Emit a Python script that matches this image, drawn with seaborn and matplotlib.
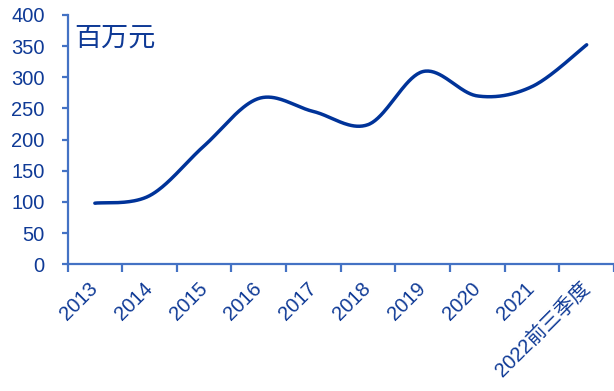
import numpy as np
import pandas as pd
import matplotlib
matplotlib.use("Agg")
import matplotlib.pyplot as plt
import seaborn as sns

years = ["2013", "2014", "2015", "2016", "2017", "2018", "2019", "2020", "2021", "2022前三季度"]
revenue = [98, 110, 190, 266, 245, 224, 309, 270, 285, 352]
y_ticks = [0, 50, 100, 150, 200, 250, 300, 350, 400]
unit_label = "百万元"

LINE = "#003399"
TEXT = "#0F3A96"
AXIS = "#4472C4"


def smooth_path(xs, ys, steps=40):
    """Catmull-Rom style cubic Bezier through every data point."""
    xs = np.asarray(xs, float)
    ys = np.asarray(ys, float)
    px = np.concatenate([[xs[0]], xs, [xs[-1]]])
    py = np.concatenate([[ys[0]], ys, [ys[-1]]])
    out_x, out_y = [], []
    t = np.linspace(0, 1, steps)
    for i in range(1, len(px) - 2):
        p0 = np.array([px[i], py[i]])
        p3 = np.array([px[i + 1], py[i + 1]])
        c1 = p0 + (np.array([px[i + 1], py[i + 1]]) - np.array([px[i - 1], py[i - 1]])) / 6
        c2 = p3 - (np.array([px[i + 2], py[i + 2]]) - np.array([px[i], py[i]])) / 6
        b = ((1 - t) ** 3)[:, None] * p0 + (3 * (1 - t) ** 2 * t)[:, None] * c1 \
            + (3 * (1 - t) * t ** 2)[:, None] * c2 + (t ** 3)[:, None] * p3
        if i > 1:
            b = b[1:]
        out_x.extend(b[:, 0])
        out_y.extend(b[:, 1])
    return np.array(out_x), np.array(out_y)


sns.set_theme(style="white")
plt.rcParams["font.family"] = ["Liberation Sans", "Noto Sans CJK SC", "DejaVu Sans"]

fig = plt.figure(figsize=(6.14, 3.91), dpi=100)
ax = fig.add_axes([0.110, 0.324, 0.890, 0.638])

sx, sy = smooth_path(np.arange(len(years)), revenue)
curve = pd.DataFrame({"x": sx, "value": sy})
sns.lineplot(data=curve, x="x", y="value", ax=ax, color=LINE, linewidth=2.5,
             sort=False, estimator=None, solid_capstyle="round")

ax.set_xlim(-0.5, len(years) - 0.5)
ax.set_ylim(0, 400)
ax.set_yticks(y_ticks)
ax.set_yticklabels([str(v) for v in y_ticks])
ax.set_xticks(np.arange(len(years)))
ax.set_xticklabels(years, rotation=45, ha="right", va="center", rotation_mode="anchor")
ax.set_xticks(np.arange(len(years) + 1) - 0.5, minor=True)
ax.set_xlabel("")
ax.set_ylabel("")

for side in ("top", "right"):
    ax.spines[side].set_visible(False)
for side in ("left", "bottom"):
    ax.spines[side].set_color(AXIS)
    ax.spines[side].set_linewidth(1.6)

ax.tick_params(axis="x", which="major", length=0, pad=15, labelsize=14.5, labelcolor=TEXT)
ax.tick_params(axis="x", which="minor", length=5.5, width=1.6, color=AXIS, direction="out", bottom=True)
ax.tick_params(axis="y", length=4.5, width=1.6, color=AXIS, direction="out", left=True,
               pad=12, labelsize=14.5, labelcolor=TEXT)
ax.grid(False)

ax.text(0.012, 0.905, unit_label, transform=ax.transAxes, fontsize=19.5, color=TEXT,
        ha="left", va="center", family=["Noto Sans CJK SC", "DejaVu Sans"])

fig.savefig("out.png", dpi=100, facecolor="white")
